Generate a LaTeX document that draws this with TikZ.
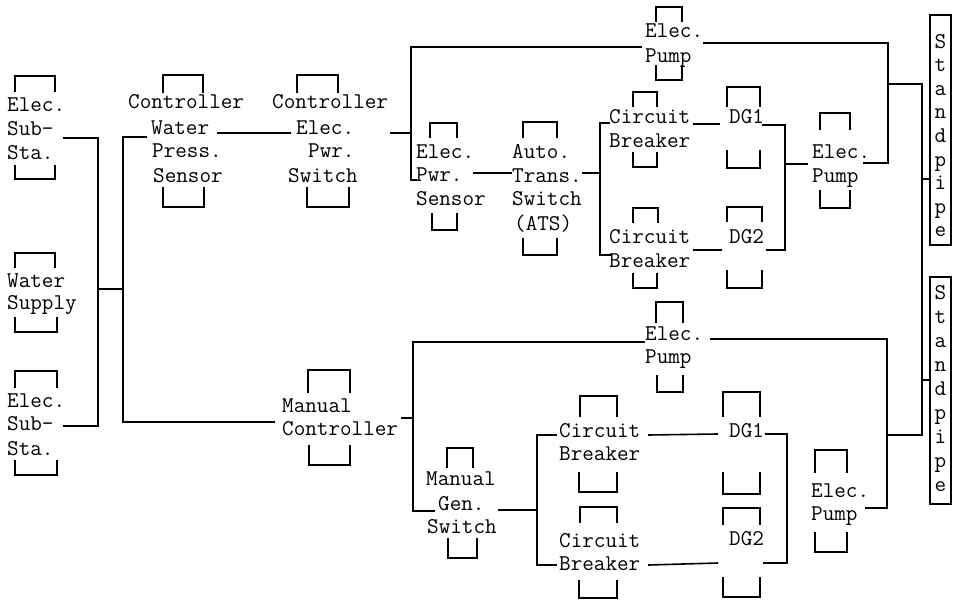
\documentclass[tikz,border=0pt]{standalone}
\tikzset{
  txt/.style={anchor=base west, inner sep=0pt, font=\ttfamily\fontsize{22.5}{24}\selectfont},
  spl/.style={anchor=base, inner sep=0pt, font=\ttfamily\fontsize{22.5}{24}\selectfont},
  ln/.style={line width=1.6pt},
  br/.style={line width=2pt, line join=miter},
  pipebox/.style={line width=1.8pt},
}
\newcommand\blkline[4]{\node[txt] (#1) at (#2,#3) {#4};}
\newcommand\topbr[4]{\draw[br] (#1,#4) -- (#1,#3) -- (#2,#3) -- (#2,#4);}
\newcommand\botbr[4]{\draw[br] (#1,#3) -- (#1,#4) -- (#2,#4) -- (#2,#3);}
\begin{document}
\begin{tikzpicture}[x=1pt,y=-1pt]
\useasboundingbox (0,0) rectangle (954,600);
\fill[white] (0,0) rectangle (954,600);

% ---- left column ----
\topbr{15}{55}{76}{92}
\blkline{aE}{7}{111}{Elec.}
\blkline{aS}{7}{135}{Sub-}
\blkline{aT}{7}{159}{Sta.}
\botbr{15}{55}{165}{179}

\topbr{15}{55}{253}{268}
\blkline{bW}{7}{287}{Water}
\blkline{bS}{7}{309}{Supply}
\botbr{15}{57}{317}{332}

\topbr{15}{57}{371}{388}
\blkline{cE}{7}{407}{Elec.}
\blkline{cS}{7}{430}{Sub-}
\blkline{cT}{7}{455}{Sta.}
\botbr{15}{57}{460}{475}

\draw[ln] (63,138) -- (98,138) -- (98,426) -- (63,426);
\draw[ln] (98,289) -- (123,289);
\draw[ln] (147,137) -- (123,137) -- (123,422) -- (275,422);

% ---- controller water press sensor ----
\topbr{163}{203}{75}{93}
\blkline{dC}{128}{108}{Controller}
\blkline{dW}{151}{134}{Water}
\blkline{dP}{152}{157}{Press.}
\blkline{dS}{153}{182}{Sensor}
\botbr{163}{204}{187}{207}
\draw[ln] (217,133) -- (291,133);

% ---- controller elec pwr switch ----
\topbr{297}{338}{75}{93}
\blkline{eC}{272}{108}{Controller}
\blkline{eE}{296}{134}{Elec.}
\blkline{eP}{308}{157}{Pwr.}
\blkline{eS}{288}{182}{Switch}
\botbr{307}{349}{187}{207}
\draw[ln] (390,133) -- (411,133);
\draw[ln] (642,47) -- (411,47) -- (411,180) -- (417,180);

% ---- top elec pump ----
\topbr{656}{682}{7}{22}
\blkline{fE}{645}{37}{Elec.}
\blkline{fP}{645}{62}{Pump}
\botbr{656}{682}{65}{80}
\draw[ln] (703,43) -- (888,43) -- (888,163) -- (863,163);
\draw[ln] (888,84) -- (922,84) -- (922,435) -- (887,435);
\draw[ln] (922,179) -- (930,179);
\draw[ln] (922,380) -- (930,380);

% ---- elec pwr sensor ----
\topbr{430}{457}{123}{138}
\blkline{gE}{416}{158}{Elec.}
\blkline{gP}{416}{181}{Pwr.}
\blkline{gS}{416}{205}{Sensor}
\botbr{432}{457}{213}{230}
\draw[ln] (473,173) -- (512,173);

% ---- ATS ----
\topbr{523}{557}{122}{138}
\blkline{hA}{512}{158}{Auto.}
\blkline{hT}{512}{182}{Trans.}
\blkline{hS}{512}{205}{Switch}
\blkline{hX}{514}{230}{(ATS)}
\botbr{523}{557}{238}{255}
\draw[ln] (582,173) -- (600,173);
\draw[ln] (610,123) -- (600,123) -- (600,255) -- (612,255);

% ---- circuit breaker top 1 ----
\topbr{633}{657}{92}{107}
\blkline{iC}{609}{123}{Circuit}
\blkline{iB}{609}{147}{Breaker}
\botbr{633}{657}{152}{167}
\draw[ln] (693,124) -- (720,124);

% ---- DG1 top ----
\topbr{727}{760}{87}{107}
\blkline{jD}{729}{123}{DG1}
\botbr{727}{760}{150}{168}
\draw[ln] (762,125) -- (785,125) -- (785,250) -- (766,250);
\draw[ln] (785,164) -- (808,164);

% ---- circuit breaker top 2 ----
\topbr{633}{658}{208}{223}
\blkline{kC}{609}{243}{Circuit}
\blkline{kB}{609}{267}{Breaker}
\botbr{633}{657}{273}{288}
\draw[ln] (693,250) -- (722,250);

% ---- DG2 top ----
\topbr{727}{762}{207}{222}
\blkline{lD}{729}{243}{DG2}
\botbr{727}{762}{270}{288}

% ---- elec pump top middle ----
\topbr{820}{850}{113}{130}
\blkline{mE}{812}{158}{Elec.}
\blkline{mP}{812}{182}{Pump}
\botbr{820}{850}{190}{208}

% ---- standpipes ----
\draw[pipebox] (930,15) rectangle (951,245);
\foreach \c [count=\i from 0] in {S,t,a,n,d,p,i,p,e}
  \node[spl] (sa\i) at (940.5,{48+23.6*\i}) {\c};
\draw[pipebox] (930,277) rectangle (951,504);
\foreach \c [count=\i from 0] in {S,t,a,n,d,p,i,p,e}
  \node[spl] (sb\i) at (940.5,{299+24.1*\i}) {\c};

% ---- manual controller ----
\topbr{308}{350}{370}{393}
\blkline{nM}{282}{412}{Manual}
\blkline{nC}{282}{435}{Controller}
\botbr{309}{350}{445}{465}
\draw[ln] (401,418) -- (413,418);
\draw[ln] (645,342) -- (413,342) -- (413,511) -- (435,511);

% ---- bottom elec pump top ----
\topbr{656}{683}{302}{323}
\blkline{oE}{645}{340}{Elec.}
\blkline{oP}{645}{363}{Pump}
\botbr{657}{683}{375}{392}
\draw[ln] (710,339) -- (887,339) -- (887,508) -- (865,508);

% ---- manual gen switch ----
\topbr{447}{473}{448}{468}
\blkline{pM}{426}{485}{Manual}
\blkline{pG}{438}{510}{Gen.}
\blkline{pS}{427}{533}{Switch}
\botbr{448}{477}{538}{558}
\draw[ln] (498,510) -- (537,510);
\draw[ln] (557,435) -- (537,435) -- (537,565) -- (557,565);

% ---- circuit breaker bottom 1 ----
\topbr{580}{617}{396}{417}
\blkline{qC}{559}{437}{Circuit}
\blkline{qB}{559}{460}{Breaker}
\botbr{579}{617}{472}{492}
\draw[ln] (648,435) -- (718,434);

% ---- DG1 bottom ----
\topbr{723}{760}{392}{417}
\blkline{rD}{729}{437}{DG1}
\botbr{723}{760}{472}{494}
\draw[ln] (765,434) -- (787,434) -- (787,563) -- (763,563);

% ---- circuit breaker bottom 2 ----
\topbr{580}{617}{507}{523}
\blkline{sC}{559}{547}{Circuit}
\blkline{sB}{559}{570}{Breaker}
\botbr{579}{617}{580}{598}
\draw[ln] (648,565) -- (718,563);

% ---- DG2 bottom ----
\topbr{723}{760}{508}{525}
\blkline{tD}{729}{545}{DG2}
\botbr{723}{760}{577}{597}

% ---- elec pump bottom middle ----
\topbr{815}{847}{450}{473}
\blkline{uE}{811}{497}{Elec.}
\blkline{uP}{811}{520}{Pump}
\botbr{815}{847}{532}{552}
\end{tikzpicture}
\end{document}
